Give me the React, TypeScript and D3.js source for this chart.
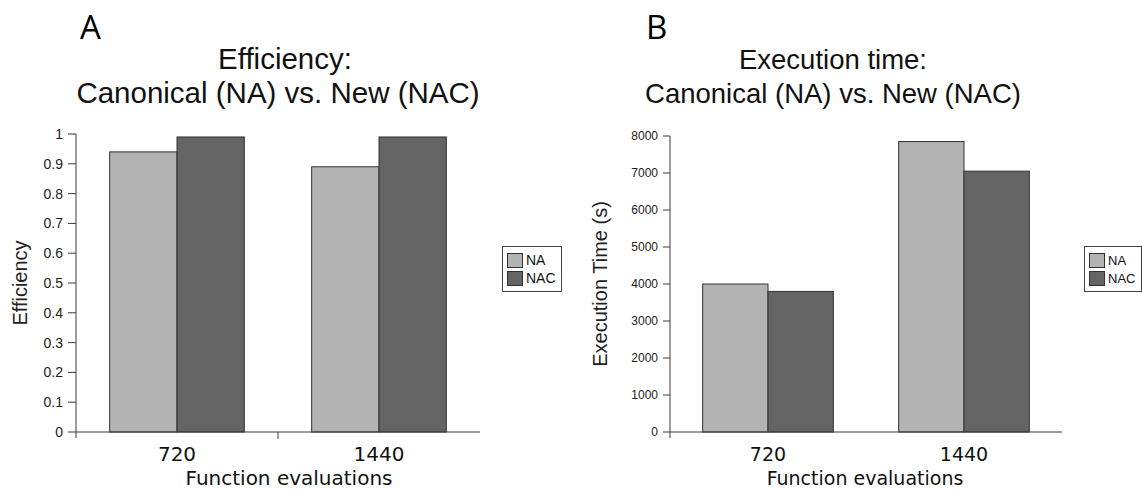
import React from "react";
import * as d3 from "d3";

const categories = ["720", "1440"];
const series = ["NA", "NAC"];
const efficiencyNA = [0.94, 0.89];
const efficiencyNAC = [0.99, 0.99];
const timeNA = [4000, 7850];
const timeNAC = [3800, 7050];
const efficiencyTicks = [0, 0.1, 0.2, 0.3, 0.4, 0.5, 0.6, 0.7, 0.8, 0.9, 1];
const timeTicks = [0, 1000, 2000, 3000, 4000, 5000, 6000, 7000, 8000];
const colors: Record<string, string> = { NA: "#b3b3b3", NAC: "#646464" };

type PanelProps = {
  letter: string;
  letterX: number;
  title1: string;
  title2: string;
  t1x: number;
  t2x: number;
  titleSize: number;
  x0: number;
  x1: number;
  yTop: number;
  yMax: number;
  ticks: number[];
  tickFmt: (v: number) => string;
  tickSize: number;
  tickLen: number;
  values: number[][];
  yLabel: string;
  yLabelX: number;
  xLabelX: number;
  xLabelY: number;
  midTick: boolean;
  legendX: number;
  legendW: number;
  legendFont: number;
  catSize: number;
};

const BASE = 432;

function Panel(p: PanelProps) {
  const x = d3.scaleBand<string>().domain(categories).range([p.x0, p.x1]).padding(0);
  const inner = d3
    .scaleBand<string>()
    .domain(series)
    .range([0, x.bandwidth()])
    .paddingInner(0)
    .paddingOuter(0.5);
  const y = d3.scaleLinear().domain([0, p.yMax]).range([BASE, p.yTop]);
  const axisColor = "#3a3a3a";
  return (
    <g>
      <text x={p.letterX} y={39} fontFamily="'Open Sans', sans-serif" fontSize={33} fill="#000">
        {p.letter}
      </text>
      <text x={p.t1x} y={69} textAnchor="middle" fontFamily="'Liberation Sans', Arial, sans-serif" fontSize={p.titleSize} fill="#111">
        {p.title1}
      </text>
      <text x={p.t2x} y={103} textAnchor="middle" fontFamily="'Liberation Sans', Arial, sans-serif" fontSize={p.titleSize} fill="#111">
        {p.title2}
      </text>
      {categories.map((c, i) =>
        series.map((s, j) => {
          const v = p.values[j][i];
          return (
            <rect
              key={c + s}
              x={(x(c) as number) + (inner(s) as number)}
              y={y(v)}
              width={inner.bandwidth()}
              height={BASE - y(v)}
              fill={colors[s]}
              stroke="#333"
              strokeWidth={1}
            />
          );
        })
      )}
      <line x1={p.x0} x2={p.x0} y1={y(p.yMax)} y2={BASE + 6} stroke={axisColor} />
      <line x1={p.x0} x2={p.x1} y1={BASE} y2={BASE} stroke={axisColor} />
      {p.midTick && (
        <line x1={x(categories[1]) as number} x2={x(categories[1]) as number} y1={BASE} y2={BASE + 7} stroke={axisColor} />
      )}
      {p.ticks.map((t) => (
        <g key={t}>
          <line x1={p.x0 - p.tickLen} x2={p.x0} y1={y(t)} y2={y(t)} stroke={axisColor} />
          <text
            x={p.x0 - p.tickLen - 5}
            y={y(t)}
            dy="0.35em"
            textAnchor="end"
            fontFamily="'Liberation Sans', Arial, sans-serif"
            fontSize={p.tickSize}
            fill="#222"
          >
            {p.tickFmt(t)}
          </text>
        </g>
      ))}
      {categories.map((c) => (
        <text
          key={c}
          x={(x(c) as number) + x.bandwidth() / 2}
          y={461}
          textAnchor="middle"
          fontFamily="'DejaVu Sans', Verdana, sans-serif"
          fontSize={p.catSize}
          fill="#111"
        >
          {c}
        </text>
      ))}
      <text
        x={p.xLabelX}
        y={p.xLabelY}
        textAnchor="middle"
        fontFamily="'DejaVu Sans', Verdana, sans-serif"
        fontSize={p.catSize}
        fill="#111"
      >
        Function evaluations
      </text>
      <text
        transform={`translate(${p.yLabelX},${(BASE + y(p.yMax)) / 2}) rotate(-90)`}
        textAnchor="middle"
        fontFamily="'Liberation Sans', Arial, sans-serif"
        fontSize={20}
        fill="#222"
      >
        {p.yLabel}
      </text>
      <g transform={`translate(${p.legendX},246)`}>
        <rect x={0.5} y={0.5} width={p.legendW} height={45} fill="#fff" stroke="#444" />
        {series.map((s, i) => (
          <g key={s} transform={`translate(5,${7 + i * 18})`}>
            <rect x={0.5} y={0.5} width={15} height={14} fill={colors[s]} stroke="#333" />
            <text x={19} y={12} fontFamily="'Liberation Sans', Arial, sans-serif" fontSize={p.legendFont} fill="#111">
              {s}
            </text>
          </g>
        ))}
      </g>
    </g>
  );
}

export default function App() {
  return (
    <svg
      width={1142}
      height={491}
      style={{ position: "absolute", left: 0, top: 0, background: "#fff" }}
    >
      <rect width={1142} height={491} fill="#fff" />
      <Panel
        letter="A"
        letterX={80}
        title1="Efficiency:"
        title2="Canonical (NA) vs. New (NAC)"
        t1x={285}
        t2x={278}
        titleSize={29.5}
        x0={76}
        x1={480}
        yTop={134}
        yMax={1}
        ticks={efficiencyTicks}
        tickFmt={(v) => d3.format("~g")(v)}
        tickSize={14}
        tickLen={8}
        values={[efficiencyNA, efficiencyNAC]}
        yLabel="Efficiency"
        yLabelX={27}
        xLabelX={289}
        xLabelY={485}
        midTick={true}
        legendX={502}
        legendW={59}
        legendFont={14}
        catSize={20}
      />
      <Panel
        letter="B"
        letterX={646}
        title1="Execution time:"
        title2="Canonical (NA) vs. New (NAC)"
        t1x={833}
        t2x={833}
        titleSize={27.5}
        x0={670}
        x1={1062}
        yTop={136}
        yMax={8000}
        ticks={timeTicks}
        tickFmt={(v) => String(v)}
        tickSize={12}
        tickLen={7}
        values={[timeNA, timeNAC]}
        yLabel="Execution Time (s)"
        yLabelX={607}
        xLabelX={865}
        xLabelY={485}
        midTick={false}
        legendX={1084}
        legendW={57}
        legendFont={13}
        catSize={19}
      />
    </svg>
  );
}
